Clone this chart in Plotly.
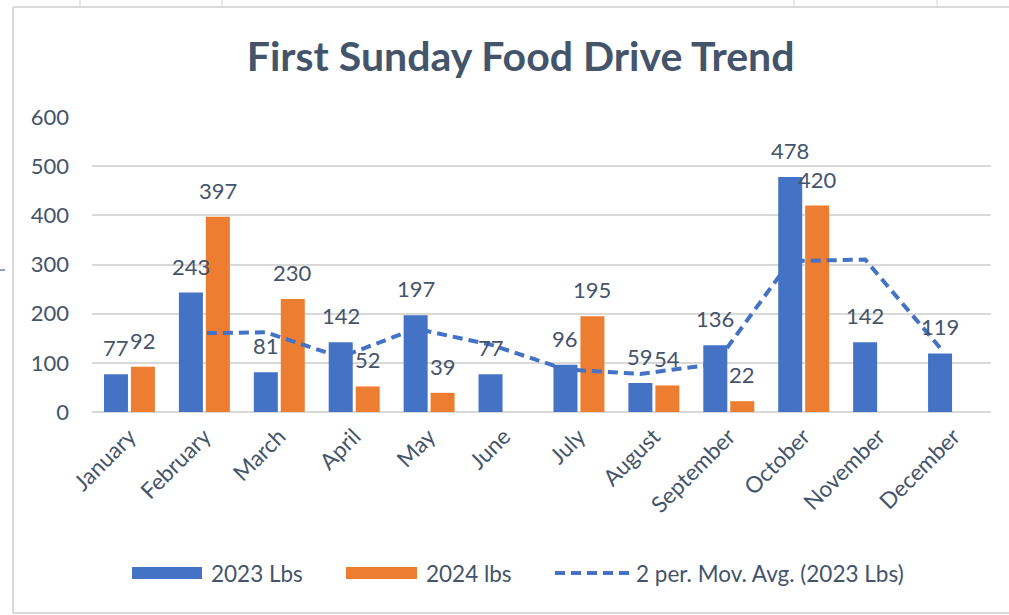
import plotly.graph_objects as go

# ---- data ----
months = ["January", "February", "March", "April", "May", "June",
          "July", "August", "September", "October", "November", "December"]
lbs_2023 = [77, 243, 81, 142, 197, 77, 96, 59, 136, 478, 142, 119]
lbs_2024 = [92, 397, 230, 52, 39, None, 195, 54, 22, 420, None, None]
# 2-period moving average of 2023 (starts at February)
mov_avg_months = months[1:]
mov_avg_2023 = [160, 162, 111.5, 169.5, 137, 86.5, 77.5, 97.5, 307, 310, 130.5]
y_ticks = [0, 100, 200, 300, 400, 500, 600]

# ---- style ----
W, H = 1009, 615
ML, MR, MT, MB = 92, 18, 117, 203
PW, PH = W - ML - MR, H - MT - MB
BLUE = "#4472C4"
ORANGE = "#ED7D31"
TXT = "#44546A"
GRID = "#D9D9D9"
FONT = "Lato, 'Open Sans', sans-serif"
BARGAP = 0.28
BARGROUPGAP = 0.11
OFF = (1 - BARGAP) / 4  # center offset of each bar in a pair (category units)

xi = list(range(len(months)))


def px_x(p):
    return (p - ML) / PW


def px_y(p):
    return (H - MB - p) / PH


fig = go.Figure()
fig.add_trace(go.Bar(x=xi, y=lbs_2023, name="2023 Lbs",
                     marker=dict(color=BLUE, line=dict(width=0))))
fig.add_trace(go.Bar(x=xi, y=lbs_2024, name="2024 lbs",
                     marker=dict(color=ORANGE, line=dict(width=0))))
mx = [months.index(m) - OFF for m in mov_avg_months]
fig.add_trace(go.Scatter(x=mx, y=mov_avg_2023, mode="lines",
                         name="2 per. Mov. Avg. (2023 Lbs)",
                         line=dict(color=BLUE, width=4, dash="10px,6px")))

annotations = []
for i, v in enumerate(lbs_2023):
    if v is not None:
        annotations.append(dict(x=i - OFF, y=v, xref="x", yref="y", text=str(v),
                                showarrow=False, yanchor="bottom", yshift=11,
                                font=dict(family=FONT, size=22, color=TXT)))
for i, v in enumerate(lbs_2024):
    if v is not None:
        annotations.append(dict(x=i + OFF, y=v, xref="x", yref="y", text=str(v),
                                showarrow=False, yanchor="bottom", yshift=11,
                                font=dict(family=FONT, size=22, color=TXT)))

# custom legend (wide swatches like the original)
shapes = []
leg_y = 573
shapes.append(dict(type="rect", xref="paper", yref="paper",
                   x0=px_x(132), x1=px_x(202), y0=px_y(579), y1=px_y(567),
                   fillcolor=BLUE, line=dict(width=0)))
shapes.append(dict(type="rect", xref="paper", yref="paper",
                   x0=px_x(346), x1=px_x(417), y0=px_y(579), y1=px_y(567),
                   fillcolor=ORANGE, line=dict(width=0)))
shapes.append(dict(type="line", xref="paper", yref="paper",
                   x0=px_x(555), x1=px_x(629), y0=px_y(leg_y), y1=px_y(leg_y),
                   line=dict(color=BLUE, width=4, dash="10px,6px")))
for xpx, txt in [(209, "2023 Lbs"), (424, "2024 lbs"), (634, "2 per. Mov. Avg. (2023 Lbs)")]:
    annotations.append(dict(x=px_x(xpx), y=px_y(leg_y), xref="paper", yref="paper",
                            text=txt, showarrow=False, xanchor="left", yanchor="middle",
                            font=dict(family=FONT, size=22.5, color=TXT)))

# chart border & spreadsheet artefacts
BORDER = "#D9D9DE"
shapes.append(dict(type="line", xref="paper", yref="paper", x0=px_x(13), x1=px_x(13),
                   y0=px_y(7), y1=px_y(613), line=dict(color=BORDER, width=2)))
shapes.append(dict(type="line", xref="paper", yref="paper", x0=px_x(13), x1=px_x(1010),
                   y0=px_y(7), y1=px_y(7), line=dict(color=BORDER, width=2)))
shapes.append(dict(type="line", xref="paper", yref="paper", x0=px_x(13), x1=px_x(1010),
                   y0=px_y(613), y1=px_y(613), line=dict(color=BORDER, width=2)))
for xpx in [80, 222, 794, 937]:
    shapes.append(dict(type="line", xref="paper", yref="paper", x0=px_x(xpx), x1=px_x(xpx),
                       y0=px_y(0), y1=px_y(6), line=dict(color="#D0D0D0", width=1)))
shapes.append(dict(type="line", xref="paper", yref="paper", x0=px_x(0), x1=px_x(5),
                   y0=px_y(270), y1=px_y(270), line=dict(color="#2A3F8F", width=1)))

fig.update_layout(
    width=W, height=H,
    margin=dict(l=ML, r=MR, t=MT, b=MB, autoexpand=False),
    paper_bgcolor="white", plot_bgcolor="white",
    barmode="group", bargap=BARGAP, bargroupgap=BARGROUPGAP,
    showlegend=False,
    title=dict(text="<b>First Sunday Food Drive Trend</b>", x=0.516, xanchor="center",
               y=1 - 57 / H, yanchor="middle",
               font=dict(family=FONT, size=41, color=TXT)),
    font=dict(family=FONT, color=TXT),
    annotations=annotations,
    shapes=shapes,
)
fig.update_xaxes(range=[-0.5, len(months) - 0.5], tickvals=xi, ticktext=months,
                 tickangle=-45, tickfont=dict(family=FONT, size=22.5, color=TXT),
                 showgrid=False, zeroline=False, showline=False, ticks="",
                 ticklabelstandoff=6)
fig.update_yaxes(range=[0, 600], tickvals=y_ticks,
                 tickfont=dict(family=FONT, size=22, color=TXT),
                 showgrid=True, gridcolor=GRID, gridwidth=1.5,
                 zeroline=True, zerolinecolor=GRID, zerolinewidth=1.5,
                 showline=False, ticks="", ticklabelstandoff=22)

fig.write_html("out.html", config={"displayModeBar": False},
               post_script="document.body.style.margin='0';document.body.style.overflow='hidden';")
